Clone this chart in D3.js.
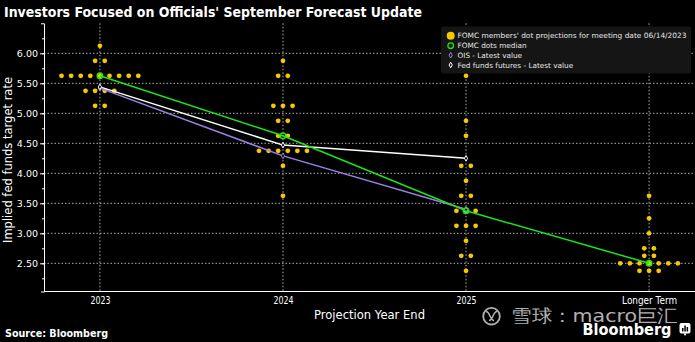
<!DOCTYPE html>
<html>
<head>
<meta charset="utf-8">
<script src="https://cdn.jsdelivr.net/npm/d3@7"></script>
<style>
  html, body { margin: 0; padding: 0; background: #000; }
  svg { display: block; }
  text { font-family: "DejaVu Sans", sans-serif; }
</style>
</head>
<body>
<svg id="chart" width="695" height="342"></svg>
<script>
// ---------------- DATA ----------------
const categories = ["2023", "2024", "2025", "Longer Term"];
// FOMC dot projections (June 14, 2023): [rate, number of participants]
const dots2023 = [[6.125, 1], [5.875, 2], [5.625, 9], [5.375, 4], [5.125, 2]];
const dots2024 = [[5.875, 1], [5.625, 2], [5.125, 3], [4.875, 2], [4.625, 2], [4.375, 6], [4.125, 1], [3.625, 1]];
const dots2025 = [[5.625, 1], [4.875, 1], [4.625, 1], [4.125, 2], [3.875, 1], [3.625, 2], [3.375, 3], [3.125, 3], [2.875, 1], [2.625, 2], [2.375, 1]];
const dotsLonger = [[3.625, 1], [3.25, 1], [3.0, 1], [2.75, 2], [2.625, 2], [2.5, 7], [2.375, 3]];
const medianValues = [5.625, 4.625, 3.375, 2.5];
const oisCategories = ["2023", "2024", "2025"];
const oisValues = [5.42, 4.29, 3.40];
const futuresCategories = ["2023", "2024", "2025"];
const futuresValues = [5.44, 4.47, 4.25];
const yMajorTicks = [2.5, 3.0, 3.5, 4.0, 4.5, 5.0, 5.5, 6.0];
const yMinorTicks = [2.25, 2.5, 2.75, 3.0, 3.25, 3.5, 3.75, 4.0, 4.25, 4.5, 4.75, 5.0, 5.25, 5.5, 5.75, 6.0, 6.25];
const legendLabels = [
  "FOMC members' dot projections for meeting date 06/14/2023",
  "FOMC dots median",
  "OIS - Latest value",
  "Fed funds futures - Latest value"
];
const titleText = "Investors Focused on Officials' September Forecast Update";

// ---------------- STYLE ----------------
const C = {
  dot: "#f5c800",
  median: "#19e619",
  ois: "#9b7fe6",
  futures: "#ffffff",
  grid: "#b0b0b0",
  text: "#ffffff"
};

const svg = d3.select("#chart");
svg.append("rect").attr("width", 695).attr("height", 342).attr("fill", "#000");

const x = d3.scalePoint().domain(categories).range([45, 704]).padding(0.3);
const y = d3.scaleLinear().domain([2.03, 6.5]).range([291.5, 23.3]);
const plotLeft = 44, plotRight = 695, plotTop = 23.3, plotBottom = 291.5;

// Title
svg.append("text")
  .attr("x", 4).attr("y", 17)
  .attr("font-size", 14).attr("font-weight", "bold")
  .attr("fill", C.text)
  .attr("textLength", 418).attr("lengthAdjust", "spacingAndGlyphs")
  .text(titleText);

// Gridlines
const grid = svg.append("g");
grid.selectAll("line.h").data(yMajorTicks).join("line")
  .attr("x1", plotLeft).attr("x2", plotRight)
  .attr("y1", d => y(d)).attr("y2", d => y(d))
  .attr("stroke", C.grid).attr("stroke-width", 1)
  .attr("stroke-dasharray", "1.5,2");
grid.selectAll("line.v").data(categories).join("line")
  .attr("x1", d => x(d)).attr("x2", d => x(d))
  .attr("y1", plotTop).attr("y2", plotBottom)
  .attr("stroke", C.grid).attr("stroke-width", 1)
  .attr("stroke-dasharray", "1.5,2");

// Y axis (minor ticks)
const yMinor = svg.append("g").attr("transform", `translate(${plotLeft},0)`)
  .call(d3.axisLeft(y).tickValues(yMinorTicks).tickSize(2).tickSizeOuter(3).tickFormat(""));
yMinor.selectAll("path, line").attr("stroke", C.text);
// Y axis (major ticks + labels)
const yMajor = svg.append("g").attr("transform", `translate(${plotLeft},0)`)
  .call(d3.axisLeft(y).tickValues(yMajorTicks).tickSize(4).tickSizeOuter(3).tickPadding(2).tickFormat(d3.format(".2f")));
yMajor.select(".domain").remove();
yMajor.selectAll("line").attr("stroke", C.text);
yMajor.selectAll("text").attr("fill", C.text).attr("font-size", 9.5)
  .attr("font-family", "DejaVu Sans, sans-serif");

// X axis
svg.append("line")
  .attr("x1", plotLeft).attr("x2", plotRight)
  .attr("y1", plotBottom).attr("y2", plotBottom)
  .attr("stroke", C.text).attr("stroke-width", 1.2);
const xAx = svg.append("g").attr("transform", `translate(0,${plotBottom})`)
  .call(d3.axisBottom(x).tickSize(0).tickPadding(5));
xAx.select(".domain").remove();
xAx.selectAll("text").attr("fill", C.text).attr("font-size", 10)
  .attr("font-family", "DejaVu Sans, sans-serif")
  .attr("textLength", d => d === "Longer Term" ? 55 : 20)
  .attr("lengthAdjust", "spacingAndGlyphs");

// Axis titles
svg.append("text")
  .attr("transform", `translate(12,160) rotate(-90)`)
  .attr("text-anchor", "middle")
  .attr("font-size", 11.5).attr("fill", C.text)
  .attr("textLength", 166).attr("lengthAdjust", "spacingAndGlyphs")
  .text("Implied fed funds target rate");
svg.append("text")
  .attr("x", 369.5).attr("y", 318.5)
  .attr("text-anchor", "middle")
  .attr("font-size", 12.5).attr("fill", C.text)
  .attr("textLength", 111).attr("lengthAdjust", "spacingAndGlyphs")
  .text("Projection Year End");

// Dots
const dotSpacing = 9.6;
const dotSets = [dots2023, dots2024, dots2025, dotsLonger];
const dotPoints = [];
dotSets.forEach((set, ci) => {
  set.forEach(([rate, n]) => {
    for (let i = 0; i < n; i++) {
      dotPoints.push({ cat: categories[ci], rate, off: (i - (n - 1) / 2) * dotSpacing });
    }
  });
});
svg.append("g").selectAll("circle").data(dotPoints).join("circle")
  .attr("cx", d => x(d.cat) + d.off)
  .attr("cy", d => y(d.rate))
  .attr("r", 2.4)
  .attr("fill", C.dot);

// Lines
const line = d3.line().x(d => x(d[0])).y(d => y(d[1]));
const medianData = categories.map((c, i) => [c, medianValues[i]]);
const oisData = oisCategories.map((c, i) => [c, oisValues[i]]);
const futData = futuresCategories.map((c, i) => [c, futuresValues[i]]);

svg.append("path").datum(oisData).attr("d", line)
  .attr("fill", "none").attr("stroke", C.ois).attr("stroke-width", 1.5);
svg.append("path").datum(futData).attr("d", line)
  .attr("fill", "none").attr("stroke", C.futures).attr("stroke-width", 1.5);
svg.append("path").datum(medianData).attr("d", line)
  .attr("fill", "none").attr("stroke", C.median).attr("stroke-width", 1.5);

const diamond = d3.symbol().type(d3.symbolDiamond).size(9);
svg.append("g").selectAll("path").data(oisData).join("path")
  .attr("d", diamond)
  .attr("transform", d => `translate(${x(d[0])},${y(d[1])})`)
  .attr("fill", "#000").attr("stroke", C.ois).attr("stroke-width", 1);
svg.append("g").selectAll("path").data(futData).join("path")
  .attr("d", diamond)
  .attr("transform", d => `translate(${x(d[0])},${y(d[1])})`)
  .attr("fill", "#000").attr("stroke", C.futures).attr("stroke-width", 1);
svg.append("g").selectAll("circle").data(medianData).join("circle")
  .attr("cx", d => x(d[0])).attr("cy", d => y(d[1]))
  .attr("r", 2.8)
  .attr("fill", "none").attr("stroke", C.median).attr("stroke-width", 1.4);

// Legend
const lg = svg.append("g");
lg.append("rect").attr("x", 441).attr("y", 26.5).attr("width", 250).attr("height", 47)
  .attr("rx", 2).attr("fill", "#151515");
const legY = [35.7, 45.7, 55.2, 65];
const mx = 450.7;
lg.append("circle").attr("cx", mx).attr("cy", legY[0]).attr("r", 4).attr("fill", C.dot);
lg.append("circle").attr("cx", mx).attr("cy", legY[1]).attr("r", 2.8)
  .attr("fill", "none").attr("stroke", C.median).attr("stroke-width", 1.3);
lg.append("path").attr("d", diamond).attr("transform", `translate(${mx},${legY[2]})`)
  .attr("fill", "#151515").attr("stroke", C.ois).attr("stroke-width", 1);
lg.append("path").attr("d", diamond).attr("transform", `translate(${mx},${legY[3]})`)
  .attr("fill", "#151515").attr("stroke", C.futures).attr("stroke-width", 1);
lg.selectAll("text").data(legendLabels).join("text")
  .attr("x", 457.5).attr("y", (d, i) => legY[i] + 2.6)
  .attr("font-size", 7.3).attr("fill", "#e6e6e6")
  .attr("textLength", (d, i) => i === 0 ? 229 : null)
  .attr("lengthAdjust", "spacingAndGlyphs")
  .text(d => d);

// Source
svg.append("text")
  .attr("x", 5).attr("y", 336.5)
  .attr("font-size", 10).attr("font-weight", "bold").attr("fill", C.text)
  .attr("textLength", 103).attr("lengthAdjust", "spacingAndGlyphs")
  .text("Source: Bloomberg");

// Watermark
const wm = svg.append("g").attr("opacity", 0.85);
wm.append("circle").attr("cx", 491.5).attr("cy", 316.2).attr("r", 8.3)
  .attr("fill", "none").attr("stroke", "#cfcfcf").attr("stroke-width", 1.8);
wm.append("path").attr("d", "M486,311.5 C490,311.5 490,320.5 494,320.5 M489,320.5 C493,320.5 493,311.5 497,311.5")
  .attr("fill", "none").attr("stroke", "#cfcfcf").attr("stroke-width", 1.6);
wm.append("text")
  .attr("x", 511).attr("y", 322)
  .attr("font-family", "Noto Sans CJK SC, sans-serif")
  .attr("font-size", 18).attr("fill", "#cfcfcf")
  .attr("textLength", 167).attr("lengthAdjust", "spacingAndGlyphs")
  .text("雪球：macro巨汇");

// Bloomberg logo
svg.append("text")
  .attr("x", 582.5).attr("y", 335)
  .attr("font-family", "Liberation Sans, Arial, sans-serif")
  .attr("font-size", 16).attr("font-weight", "bold").attr("fill", "#fff")
  .attr("textLength", 89).attr("lengthAdjust", "spacingAndGlyphs")
  .text("Bloomberg");
const ic = svg.append("g");
ic.append("rect").attr("x", 679.5).attr("y", 323).attr("width", 11).attr("height", 10.5)
  .attr("rx", 2).attr("fill", "#fff");
ic.append("path").attr("d", "M683.5,333.5 L685,336 L686.5,333.5 Z").attr("fill", "#fff");
ic.append("rect").attr("x", 682).attr("y", 328).attr("width", 1.5).attr("height", 3.5).attr("fill", "#000");
ic.append("rect").attr("x", 684.3).attr("y", 325.5).attr("width", 1.5).attr("height", 6).attr("fill", "#000");
ic.append("rect").attr("x", 686.6).attr("y", 327).attr("width", 1.5).attr("height", 4.5).attr("fill", "#000");
</script>
</body>
</html>
